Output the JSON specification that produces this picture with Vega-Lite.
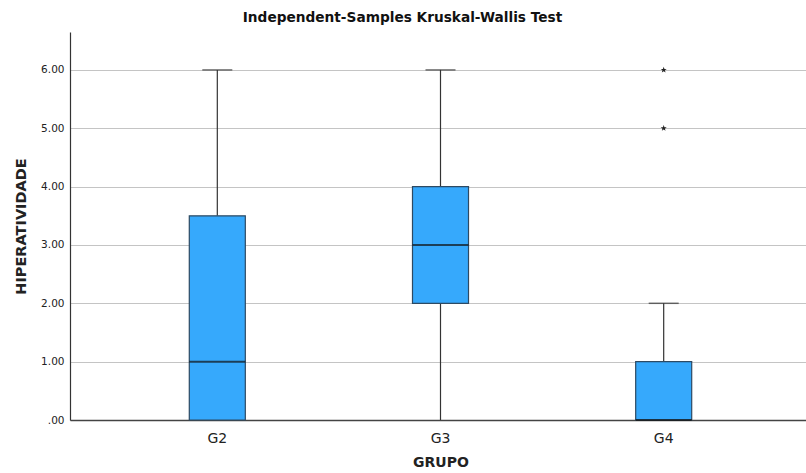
{
  "$schema": "https://vega.github.io/schema/vega-lite/v6.json",
  "width": 741,
  "height": 388,
  "autosize": {"type": "none"},
  "padding": {"left": 70, "top": 32, "right": 0, "bottom": 53},
  "background": "white",
  "title": {
    "text": "Independent-Samples Kruskal-Wallis Test",
    "font": "DejaVu Sans",
    "fontSize": 13.7,
    "fontWeight": "bold",
    "color": "#111",
    "anchor": "middle",
    "dx": -38,
    "offset": 7
  },
  "datasets": {
    "boxes": [
      {"grupo": "G2", "min": 0, "q1": 0, "median": 1, "q3": 3.5, "max": 6},
      {"grupo": "G3", "min": 0, "q1": 2, "median": 3, "q3": 4, "max": 6},
      {"grupo": "G4", "min": 0, "q1": 0, "median": 0, "q3": 1, "max": 2}
    ],
    "outliers": [
      {"grupo": "G4", "value": 5},
      {"grupo": "G4", "value": 6}
    ]
  },
  "config": {
    "view": {"stroke": null},
    "axis": {"labelFont": "DejaVu Sans", "titleFont": "DejaVu Sans", "labelColor": "#222", "titleColor": "#222"}
  },
  "encoding": {
    "x": {
      "field": "grupo",
      "type": "nominal",
      "title": "GRUPO",
      "scale": {"domain": ["G2", "G3", "G4"], "paddingInner": 0, "paddingOuter": 0.16},
      "axis": {
        "labelAngle": 0,
        "labelFontSize": 14,
        "labelPadding": 11,
        "ticks": false,
        "domainColor": "#444",
        "domainWidth": 1.5,
        "titleFontSize": 14,
        "titleFontWeight": "bold",
        "titlePadding": 10
      }
    }
  },
  "layer": [
    {
      "data": {"name": "boxes"},
      "mark": {"type": "rule", "color": "#333", "strokeWidth": 1.2},
      "encoding": {
        "y": {
          "field": "q3",
          "type": "quantitative",
          "title": "HIPERATIVIDADE",
          "scale": {"domain": [0, 6.65], "nice": false, "zero": true},
          "axis": {
            "values": [0, 1, 2, 3, 4, 5, 6],
            "labelExpr": "datum.value == 0 ? '.00' : format(datum.value, '.2f')",
            "labelFontSize": 10.5,
            "labelPadding": 6,
            "ticks": false,
            "grid": true,
            "gridColor": "#c4c4c4",
            "gridWidth": 1,
            "domainColor": "#333",
            "domainWidth": 1.2,
            "titleFontSize": 14.5,
            "titleFontWeight": "bold",
            "titlePadding": 12
          }
        },
        "y2": {"field": "max"}
      }
    },
    {
      "data": {"name": "boxes"},
      "mark": {"type": "rule", "color": "#333", "strokeWidth": 1.2},
      "encoding": {
        "y": {"field": "min", "type": "quantitative"},
        "y2": {"field": "q1"}
      }
    },
    {
      "data": {"name": "boxes"},
      "mark": {"type": "tick", "color": "#333", "size": 30, "thickness": 1.5},
      "encoding": {
        "y": {"field": "max", "type": "quantitative"}
      }
    },
    {
      "data": {"name": "boxes"},
      "mark": {
        "type": "bar",
        "width": {"band": 0.251},
        "fill": "#36a9fc",
        "stroke": "#2d4a63",
        "strokeWidth": 1.2
      },
      "encoding": {
        "y": {"field": "q1", "type": "quantitative"},
        "y2": {"field": "q3"}
      }
    },
    {
      "data": {"name": "boxes"},
      "mark": {"type": "tick", "color": "#111", "size": 56, "thickness": 2},
      "encoding": {
        "y": {"field": "median", "type": "quantitative"}
      }
    },
    {
      "data": {"name": "outliers"},
      "mark": {
        "type": "point",
        "shape": "M0,-1L0.24,-0.33L0.95,-0.31L0.38,0.12L0.59,0.81L0,0.4L-0.59,0.81L-0.38,0.12L-0.95,-0.31L-0.24,-0.33Z",
        "filled": true,
        "color": "#222",
        "size": 40,
        "opacity": 1
      },
      "encoding": {
        "y": {"field": "value", "type": "quantitative"}
      }
    }
  ]
}
